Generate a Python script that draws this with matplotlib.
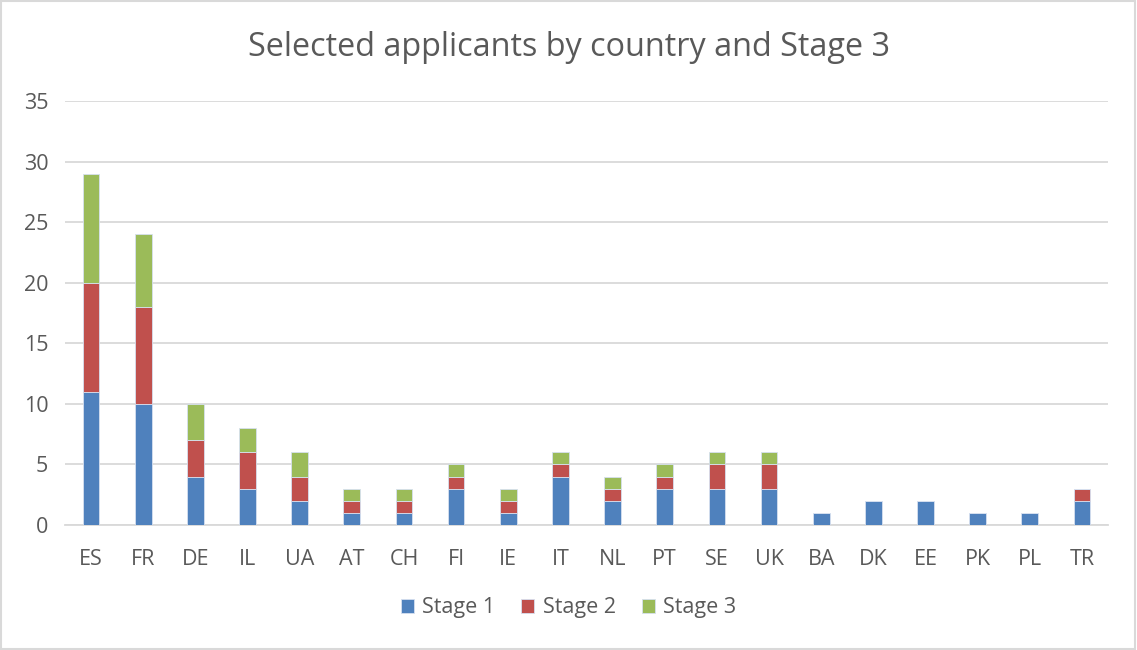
import matplotlib
matplotlib.use("Agg")
import matplotlib.pyplot as plt
import numpy as np
from matplotlib.patches import Rectangle

countries = ["ES", "FR", "DE", "IL", "UA", "AT", "CH", "FI", "IE", "IT",
             "NL", "PT", "SE", "UK", "BA", "DK", "EE", "PK", "PL", "TR"]
stage1 = [11, 10, 4, 3, 2, 1, 1, 3, 1, 4, 2, 3, 3, 3, 1, 2, 2, 1, 1, 2]
stage2 = [9, 8, 3, 3, 2, 1, 1, 1, 1, 1, 1, 1, 2, 2, 0, 0, 0, 0, 0, 1]
stage3 = [9, 6, 3, 2, 2, 1, 1, 1, 1, 1, 1, 1, 1, 1, 0, 0, 0, 0, 0, 0]
series_names = ["Stage 1", "Stage 2", "Stage 3"]
colors = ["#4F81BD", "#C0504D", "#9BBB59"]
title = "Selected applicants by country and Stage 3"

plt.rcParams['font.family'] = ['Open Sans', 'DejaVu Sans']

fig = plt.figure(figsize=(11.37, 6.5), dpi=100)
ax = fig.add_axes([65/1137, 1 - 525/650, (1108-65)/1137, (525-101)/650])

x = np.arange(len(countries))
bottom = np.zeros(len(countries))
for vals, name, c in zip([stage1, stage2, stage3], series_names, colors):
    v = np.array(vals, dtype=float)
    ax.bar(x, v, bottom=bottom, width=0.32, color=c, label=name,
           edgecolor="#D6E0F0", linewidth=0.6, zorder=3)
    bottom += v

ax.set_xlim(-0.5, len(countries) - 0.5)
ax.set_ylim(0, 35)
ax.set_yticks(range(0, 36, 5))
ax.yaxis.grid(True, color="#D9D9D9", linewidth=1.3, zorder=0)
ax.set_axisbelow(True)
for s in ["top", "right", "left"]:
    ax.spines[s].set_visible(False)
ax.spines["bottom"].set_color("#D9D9D9")
ax.spines["bottom"].set_linewidth(1.3)
ax.tick_params(axis="both", length=0, labelsize=15.5, colors="#595959")
ax.tick_params(axis="y", pad=12)
ax.tick_params(axis="x", pad=17)
ax.set_xticks(x)
ax.set_xticklabels(countries)

fig.text(0.5, 1 - 47/650, title, ha="center", va="center",
         fontsize=23.3, color="#595959")

handles, labels = ax.get_legend_handles_labels()
leg = fig.legend(handles, labels, loc="center", bbox_to_anchor=(0.5, 1 - 608/650),
                 ncol=3, frameon=False, fontsize=15.5, handlelength=0.6,
                 handleheight=0.6, handletextpad=0.4, columnspacing=1.2)
for t in leg.get_texts():
    t.set_color("#595959")

fig.patches.append(Rectangle((0.001, 0.001), 0.997, 0.997, transform=fig.transFigure,
                             fill=False, edgecolor="#D9D9D9", linewidth=1.5))

fig.savefig("out.png", dpi=100)
